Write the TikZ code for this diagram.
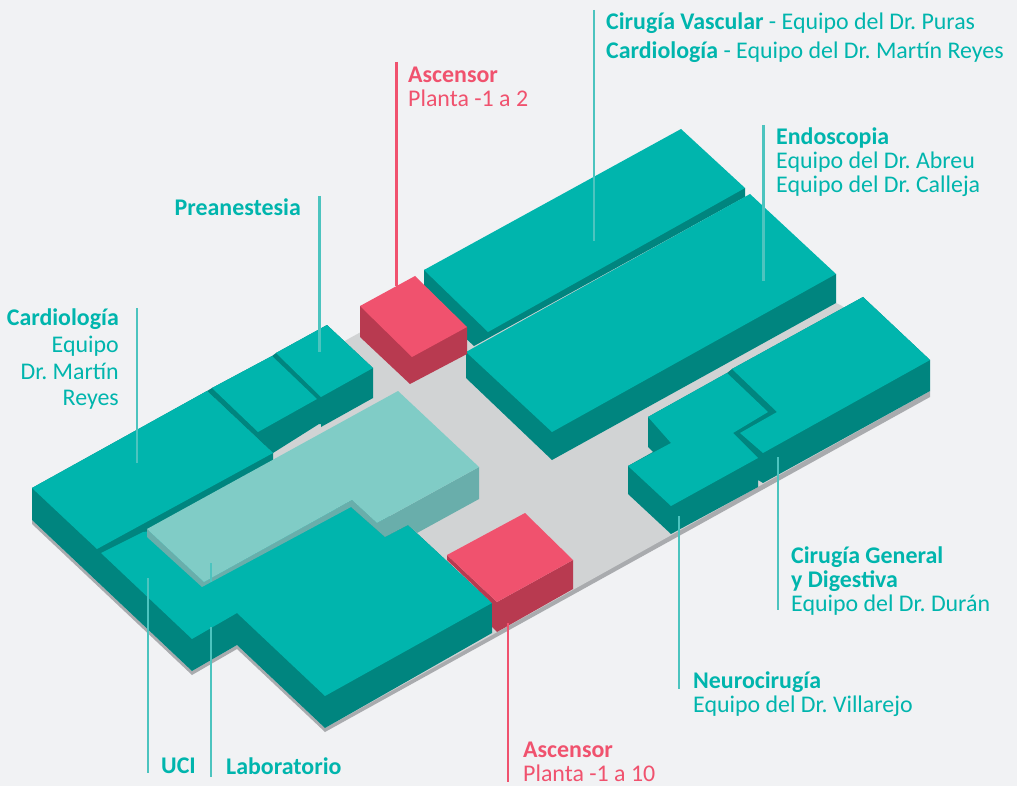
\documentclass[tikz,border=0pt]{standalone}
\usepackage{fontspec}
\setmainfont{Carlito}
\definecolor{bgcol}{HTML}{F1F2F4}
\definecolor{floorcol}{HTML}{D1D3D4}
\definecolor{shadowcol}{HTML}{A9ABAE}
\definecolor{topcol}{HTML}{00B5AD}
\definecolor{sidecol}{HTML}{00857F}
\definecolor{labtop}{HTML}{80CCC6}
\definecolor{labside}{HTML}{69AEAB}
\definecolor{redtop}{HTML}{F0526E}
\definecolor{redside}{HTML}{B83A50}
\definecolor{leadcol}{HTML}{4CC4BF}
\tikzset{
  leader/.style={draw=leadcol,line width=2.8pt},
  redleader/.style={draw=redtop,line width=2.8pt},
  label/.style={text=topcol,inner sep=0pt,font=\frenchspacing\fontsize{23.9}{24}\selectfont,align=left},
  redlabel/.style={label,text=redtop}
}
\begin{document}
\begin{tikzpicture}[x=1pt,y=-1pt]
  \useasboundingbox[fill=bgcol] (0,0) rectangle (1017,786);
  % floor and its shadow
  \fill[shadowcol] (32,520) -- (32,524) -- (192,675) -- (237,649) -- (325,732) -- (930,397) -- (930,391) -- cycle;
  \fill[floorcol] (32,520) -- (350,338) -- (620,190) -- (842,306) -- (930,391) -- (325,728) -- (237,645) -- (192,671) -- cycle;
  % back blocks
  \fill[sidecol] (424,270) -- (424,300) -- (474,346) -- (745,197) -- (745,188) -- cycle;
  \fill[topcol] (424,270) -- (681,129) -- (745,188) -- (488,332) -- cycle;
  \fill[sidecol] (466,352) -- (466,378) -- (552,460) -- (836,303) -- (836,274) -- cycle;
  \fill[topcol] (466,352) -- (750,194) -- (836,274) -- (552,432) -- cycle;
  % lift at the back
  \fill[redside] (360,306) -- (360,337) -- (410,384) -- (467,354) -- (467,327) -- cycle;
  \fill[redtop] (360,306) -- (415,276) -- (467,327) -- (412,357) -- cycle;
  % preanestesia row
  \fill[sidecol] (207,391) -- (212,388) -- (272,356) -- (276,353) -- (327,325) -- (373,368) -- (373,398) -- (321,427) -- (321,424) -- (319,424) -- (273,453) -- cycle;
  \fill[topcol] (212,388) -- (272,356) -- (317,399) -- (258,432) -- cycle;
  \fill[topcol] (276,353) -- (327,325) -- (373,368) -- (321,397) -- cycle;
  % cardiologia wing
  \fill[sidecol] (32,488) -- (32,520) -- (192,671) -- (237,645) -- (325,728) -- (492,633) -- (492,603) -- (408,525) -- (273,460) -- (273,453) -- (207,391) -- cycle;
  \fill[topcol] (32,488) -- (207,391) -- (273,453) -- (97,549) -- cycle;
  \fill[topcol] (101,553) -- (143,532) -- (351,507) -- (385,537) -- (408,525) -- (492,603) -- (325,696) -- (237,613) -- (192,639) -- cycle;
  % laboratory
  \fill[labside] (147,529) -- (147,537) -- (202,587) -- (351,507) -- (385,537) -- (408,525) -- (417,533) -- (479,499) -- (479,467) -- (377,523) -- (352,500) -- (204,582) -- cycle;
  \fill[labtop] (147,529) -- (398,391) -- (479,467) -- (377,523) -- (352,500) -- (204,582) -- cycle;
  % lift at the front
  \fill[redside] (447,555) -- (447,560) -- (492,603) -- (492,627) -- (497,632) -- (573,589) -- (573,560) -- (497,602) -- cycle;
  \fill[redtop] (447,555) -- (525,513) -- (573,560) -- (497,602) -- cycle;
  % right wing
  \fill[sidecol] (648,417) -- (727,373) -- (732,369) -- (863,297) -- (930,360) -- (930,391) -- (763,483) -- (758,480) -- (758,487) -- (671,534) -- (628,494) -- (628,466) -- (653,452) -- (648,447) -- cycle;
  \fill[topcol] (732,369) -- (863,297) -- (930,360) -- (763,453) -- (740,433) -- (777,412) -- cycle;
  \fill[topcol] (648,417) -- (727,373) -- (768,412) -- (733,433) -- (758,458) -- (671,506) -- (628,466) -- (671,443) -- cycle;
  % labels
  \node[label,anchor=north west] (vascular) at (606,13) {\textbf{Cirugía Vascular} - Equipo del Dr. Puras};
  \node[label,anchor=north west] (cardioB) at (606,42) {\textbf{Cardiología} - Equipo del Dr. Martín Reyes};
  \node[label,anchor=north west] (endo) at (776,128) {\textbf{Endoscopia}\\Equipo del Dr. Abreu\\Equipo del Dr. Calleja};
  \node[redlabel,anchor=north west] (liftA) at (408,67) {\textbf{Ascensor}\\Planta -1 a 2};
  \node[label,anchor=north east] (pre) at (301,199) {\textbf{Preanestesia}};
  \node[label,anchor=north east,align=right] (cardioA) at (119,309) {\textbf{Cardiología}\\[2.6pt]Equipo\\[2.6pt]Dr. Martín\\[2.6pt]Reyes};
  \node[label,anchor=north west] (uci) at (161,758) {\textbf{UCI}};
  \node[label,anchor=north west] (lab) at (226,758) {\textbf{Laboratorio}};
  \node[redlabel,anchor=north west] (liftB) at (523,742) {\textbf{Ascensor}\\Planta -1 a 10};
  \node[label,anchor=north west] (neuro) at (693,672) {\textbf{Neurocirugía}\\Equipo del Dr. Villarejo};
  \node[label,anchor=north west] (general) at (791,547) {\textbf{Cirugía General}\\\textbf{y Digestiva}\\Equipo del Dr. Durán};
  % leaders, from the labels down to the blocks
  \coordinate (cardioEnd) at (137,463);
  \coordinate (preEnd) at (319.5,352);
  \coordinate (liftEnd) at (396.5,286);
  \coordinate (vascEnd) at (594,241);
  \coordinate (endoEnd) at (763.5,281);
  \draw[leader] (137,308) -- (cardioEnd);
  \draw[leader] (319.5,196) -- (preEnd);
  \draw[redleader] (396.5,62) -- (liftEnd);
  \draw[leader] (594,10) -- (vascEnd);
  \draw[leader] (763.5,125) -- (endoEnd);
  \draw[leader] (148,578) -- (148,773);
  \draw[leader] (211,563) -- (211,582);
  \draw[leader] (211,627) -- (211,777);
  \draw[leader] (679,516) -- (679,689);
  \draw[leader] (778,457) -- (778,610);
  \draw[redleader] (508,623) -- (508,782);
\end{tikzpicture}
\end{document}
